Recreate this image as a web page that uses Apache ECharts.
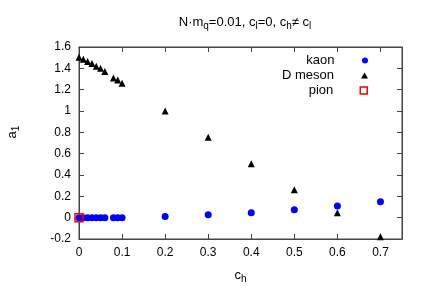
<!DOCTYPE html>
<html>
<head>
<meta charset="utf-8">
<script src="https://cdn.jsdelivr.net/npm/echarts@6/dist/echarts.min.js"></script>
<style>html,body{margin:0;padding:0;background:#fff}#c{width:429px;height:301px}</style>
</head>
<body>
<div id="c"></div>
<script>
var kaonX = [0, 0.01, 0.02, 0.03, 0.04, 0.05, 0.06, 0.08, 0.09, 0.1, 0.2, 0.3, 0.4, 0.5, 0.6, 0.7];
var kaonY = [0, 0, 0, 0, 0, 0, 0, 0, 0, 0, 0.01, 0.028, 0.047, 0.075, 0.109, 0.15];
var dX = [0, 0.01, 0.02, 0.03, 0.04, 0.05, 0.06, 0.08, 0.09, 0.1, 0.2, 0.3, 0.4, 0.5, 0.6, 0.7];
var dY = [1.505, 1.484, 1.465, 1.446, 1.42, 1.40, 1.37, 1.31, 1.29, 1.26, 1.0, 0.755, 0.506, 0.262, 0.047, -0.18];
var pionX = [0];
var pionY = [0];

function pairs(xs, ys){ return xs.map(function(x,i){return [x, ys[i]];}); }
var FONT = 'Liberation Sans';
var axisColor = '#444';
var chart = echarts.init(document.getElementById('c'), null, {renderer:'canvas'});
function ax(pos, showLabel, extra){
  var o = {
    type:'value', position:pos,
    axisLine:{show:true, onZero:false, lineStyle:{color:axisColor, width:1}},
    axisTick:{show:true, inside:true, length:5, lineStyle:{color:axisColor, width:1}},
    splitLine:{show:false},
    axisLabel:{show:true, color: showLabel ? '#000' : 'rgba(0,0,0,0)', fontFamily:FONT, fontSize:12, margin:8,
      showMaxLabel:(pos==='bottom'||pos==='top')?false:true}
  };
  if (!showLabel) o.axisLabel.formatter = function(){ return ''; };
  for (var k in extra) o[k] = extra[k];
  return o;
}
var subRich = {
  b:{fontFamily:FONT, fontSize:13, color:'#000', lineHeight:15, verticalAlign:'top'},
  s:{fontFamily:FONT, fontSize:10, color:'#000', lineHeight:15, verticalAlign:'top', padding:[5,0,0,0]}
};
var xr = {min:0, max:0.75, interval:0.1};
var yr = {min:-0.2, max:1.6, interval:0.2};
chart.setOption({
  animation:false,
  textStyle:{fontFamily:FONT},
  title:{
    text:'{b|N·m}{s|q}{b|=0.01, c}{s|l}{b|=0, c}{s|h}{b|≠ c}{s|l}',
    left:240, top:11, textAlign:'center',
    textStyle:{fontWeight:'normal', rich:subRich}
  },
  grid:{left:79, right:27, top:47, bottom:62, show:true, borderColor:axisColor, borderWidth:1,
    backgroundColor:'rgba(0,0,0,0)', containLabel:false, outerBoundsMode:'none'},
  xAxis:[
    ax('bottom', true, Object.assign({name:'{b|c}{s|h}', nameLocation:'middle', nameGap:30, nameTextStyle:{rich:subRich}}, xr)),
    ax('top', false, Object.assign({}, xr))
  ],
  yAxis:[
    ax('left', true, Object.assign({name:'{b|a}{s|1}', nameLocation:'middle', nameGap:58, nameTextStyle:{rich:subRich, padding:[0,0,0,22]}}, yr)),
    ax('right', false, Object.assign({}, yr))
  ],
  legend:[
    {data:[{name:'kaon', icon:'circle'}], right:56, top:49, orient:'vertical', align:'right',
      itemWidth:7, itemHeight:6, textStyle:{fontFamily:FONT, fontSize:13, color:'#000', padding:[0,22,0,0]}, selectedMode:false},
    {data:[{name:'D meson', icon:'triangle'}], right:56, top:64, orient:'vertical', align:'right',
      itemWidth:7, itemHeight:6, textStyle:{fontFamily:FONT, fontSize:13, color:'#000', padding:[0,22,0,0]}, selectedMode:false},
    {data:[{name:'pion', icon:'rect', itemStyle:{color:'#fff', borderColor:'#ff0000', borderWidth:1.5}}], right:56, top:79, orient:'vertical', align:'right',
      itemWidth:7, itemHeight:7, textStyle:{fontFamily:FONT, fontSize:13, color:'#000', padding:[0,22,0,0]}, selectedMode:false}
  ],
  series:[
    {name:'kaon', type:'scatter', data:pairs(kaonX,kaonY), symbol:'circle', symbolSize:7,
      itemStyle:{color:'#0000ff', opacity:1}, clip:false, z:3},
    {name:'D meson', type:'scatter', data:pairs(dX,dY), symbol:'triangle', symbolSize:7,
      itemStyle:{color:'#000', opacity:1}, clip:false, z:3},
    {name:'pion', type:'scatter', data:pairs(pionX,pionY), symbol:'rect', symbolSize:8,
      itemStyle:{color:'transparent', borderColor:'#ff0000', borderWidth:1.5, opacity:1}, clip:false, z:4}
  ]
});
</script>
</body>
</html>
